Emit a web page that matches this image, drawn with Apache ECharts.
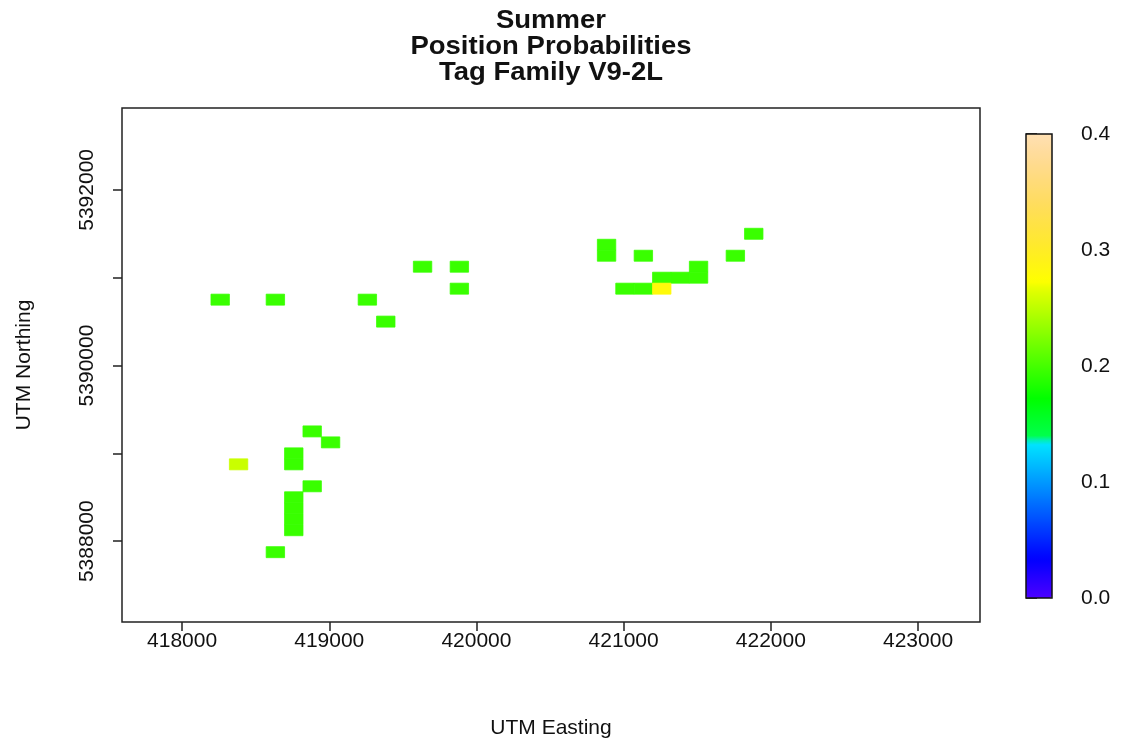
<!DOCTYPE html>
<html>
<head>
<meta charset="utf-8">
<title>Summer Position Probabilities – Tag Family V9-2L</title>
<script src="https://cdn.jsdelivr.net/npm/echarts@6/dist/echarts.min.js"></script>
<style>
  html, body { margin: 0; padding: 0; background: #ffffff; }
  #chart { width: 1122px; height: 744px; }
</style>
</head>
<body>
<div id="chart"></div>
<script>
// Grid cell centres (UTM, metres) and the position probability of each cell
const eastings = [
  418259, 418634, 419259, 419384, 419634, 419884, 419884,
  420884, 420884, 421134, 421509, 421509, 421259, 421384,
  421009, 421134, 421259, 421884, 421759,
  418384, 418759, 418759, 418884, 419009, 418884,
  418759, 418759, 418759, 418759, 418634
];
const northings = [
  5390750, 5390750, 5390750, 5390500, 5391125, 5391125, 5390875,
  5391375, 5391250, 5391250, 5391125, 5391000, 5391000, 5391000,
  5390875, 5390875, 5390875, 5391500, 5391250,
  5388875, 5389000, 5388875, 5389250, 5389125, 5388625,
  5388500, 5388375, 5388250, 5388125, 5387875
];
const probs = [
  0.195, 0.195, 0.195, 0.195, 0.195, 0.195, 0.195,
  0.195, 0.195, 0.195, 0.195, 0.195, 0.195, 0.195,
  0.195, 0.195, 0.28, 0.195, 0.195,
  0.255, 0.195, 0.195, 0.195, 0.195, 0.195,
  0.195, 0.195, 0.195, 0.195, 0.195
];
const CELL = 125;                       // cell size in metres

const xTicks = [418000, 419000, 420000, 421000, 422000, 423000];
const yTicks = [5388000, 5389000, 5390000, 5391000, 5392000];
const yTickLabels = [5388000, 5390000, 5392000];
const zTicks = [0, 0.1, 0.2, 0.3, 0.4];

const titleLines = ['Summer', 'Position Probabilities', 'Tag Family V9-2L'];

// R-style topo.colors palette
function hsvHex(h, s, v) {
  const i = Math.floor(h * 6), f = h * 6 - i;
  const p = v * (1 - s), q = v * (1 - f * s), t = v * (1 - (1 - f) * s);
  let r, g, b;
  switch (((i % 6) + 6) % 6) {
    case 0: r = v; g = t; b = p; break;
    case 1: r = q; g = v; b = p; break;
    case 2: r = p; g = v; b = t; break;
    case 3: r = p; g = q; b = v; break;
    case 4: r = t; g = p; b = v; break;
    default: r = v; g = p; b = q;
  }
  const hx = x => Math.round(x * 255).toString(16).padStart(2, '0');
  return '#' + hx(r) + hx(g) + hx(b);
}
function seq(from, to, n) {
  if (n === 1) return [from];
  const out = [];
  for (let m = 0; m < n; m++) out.push(from + (to - from) * m / (n - 1));
  return out;
}
function topoColors(n) {
  const j = Math.floor(n / 3), k = Math.floor(n / 3), i = n - j - k;
  const cols = [];
  seq(43 / 60, 31 / 60, i).forEach(h => cols.push(hsvHex(h, 1, 1)));
  seq(23 / 60, 11 / 60, j).forEach(h => cols.push(hsvHex(h, 1, 1)));
  const hs = seq(10 / 60, 6 / 60, k), ss = seq(1, 0.3, k);
  hs.forEach((h, m) => cols.push(hsvHex(h, ss[m], 1)));
  return cols;
}

const cells = eastings.map((e, i) => [e, northings[i], probs[i]]);

const FONT = "'Liberation Sans', Arial, Helvetica, sans-serif";
const INK = '#111';
const plain = v => String(v);

// Plot frame and colour-bar frame (pixels)
const PLOT = { left: 122, top: 108, width: 858, height: 515 };
const BAR = { left: 1026, top: 134, width: 26, height: 464 };
const titleY = [21, 47, 73];

const chart = echarts.init(document.getElementById('chart'), null, { renderer: 'canvas' });
chart.setOption({
  backgroundColor: '#ffffff',
  animation: false,
  graphic: [
    ...titleLines.map((t, i) => ({
      type: 'text',
      x: PLOT.left + PLOT.width / 2,
      y: titleY[i],
      scaleX: 1.1,
      z: 10,
      style: {
        text: t, fontFamily: FONT, fontSize: 25, fontWeight: 'bold', fill: INK,
        textAlign: 'center', textVerticalAlign: 'middle'
      }
    })),
    {
      type: 'rect',
      z: 100,
      shape: { x: BAR.left, y: BAR.top, width: BAR.width, height: BAR.height },
      style: { fill: 'none', stroke: '#111', lineWidth: 1.5 }
    }
  ],
  grid: [
    { ...PLOT, show: true, borderColor: '#222', borderWidth: 1.5, backgroundColor: 'transparent' },
    { ...BAR, show: false }
  ],
  xAxis: [
    {
      gridIndex: 0, type: 'value', min: 417592, max: 423421,
      name: 'UTM Easting', nameLocation: 'middle', nameGap: 96,
      nameTextStyle: { fontFamily: FONT, fontSize: 21, color: INK },
      axisLine: { show: false },
      axisTick: { show: true, length: 9, inside: false, customValues: xTicks, lineStyle: { color: '#222', width: 1.5 } },
      axisLabel: { show: true, margin: 9, customValues: xTicks, formatter: plain, fontFamily: FONT, fontSize: 21, color: INK },
      splitLine: { show: false }
    },
    { gridIndex: 1, type: 'value', min: 0, max: 1, show: false }
  ],
  yAxis: [
    {
      gridIndex: 0, type: 'value', min: 5387080, max: 5392932,
      name: 'UTM Northing', nameLocation: 'middle', nameGap: 87,
      nameTextStyle: { fontFamily: FONT, fontSize: 21, color: INK },
      axisLine: { show: false },
      axisTick: { show: true, length: 9, inside: false, customValues: yTicks, lineStyle: { color: '#222', width: 1.5 } },
      axisLabel: { show: true, margin: 24, rotate: 90, customValues: yTickLabels, formatter: plain, fontFamily: FONT, fontSize: 21, color: INK },
      splitLine: { show: false }
    },
    {
      gridIndex: 1, type: 'value', min: 0, max: 0.4, interval: 0.1, position: 'right',
      axisLine: { show: false },
      axisTick: { show: true, length: 11, customValues: zTicks, lineStyle: { color: '#111', width: 1.5 } },
      axisLabel: { show: true, margin: 29, customValues: zTicks, formatter: v => v.toFixed(1), fontFamily: FONT, fontSize: 21, color: INK },
      splitLine: { show: false }
    }
  ],
  visualMap: {
    type: 'continuous',
    seriesIndex: 0,
    dimension: 2,
    min: 0,
    max: 0.4,
    calculable: false,
    hoverLink: false,
    orient: 'vertical',
    left: BAR.left,
    top: BAR.top,
    padding: 0,
    itemWidth: BAR.width,
    itemHeight: BAR.height,
    inRange: { color: topoColors(64) }
  },
  series: [
    {
      type: 'custom',
      xAxisIndex: 0,
      yAxisIndex: 0,
      data: cells,
      encode: { x: 0, y: 1 },
      renderItem: (params, api) => {
        const e = api.value(0), n = api.value(1);
        const p0 = api.coord([e - CELL / 2, n + CELL / 2]);
        const p1 = api.coord([e + CELL / 2, n - CELL / 2]);
        const c = api.visual('color');
        return {
          type: 'rect',
          shape: { x: p0[0], y: p0[1], width: p1[0] - p0[0], height: p1[1] - p0[1] },
          style: { fill: c, stroke: c, lineWidth: 0.8 }
        };
      }
    }
  ]
});
</script>
</body>
</html>
